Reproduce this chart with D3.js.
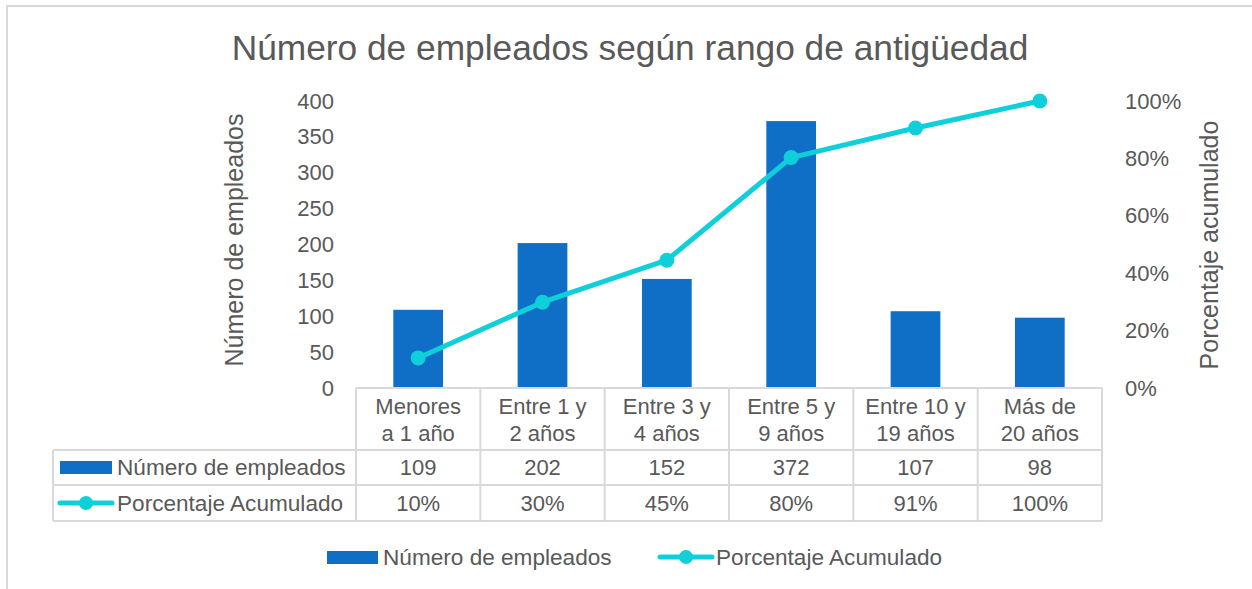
<!DOCTYPE html>
<html>
<head>
<meta charset="utf-8">
<script src="https://cdn.jsdelivr.net/npm/d3@7"></script>
<style>
  body { margin: 0; background: #fff; }
  svg { display: block; font-family: "Liberation Sans", Arial, sans-serif; }
</style>
</head>
<body>
<svg id="chart" width="1252" height="589"></svg>
<script>
const categories = [
  ['Menores', 'a 1 año'],
  ['Entre 1 y', '2 años'],
  ['Entre 3 y', '4 años'],
  ['Entre 5 y', '9 años'],
  ['Entre 10 y', '19 años'],
  ['Más de', '20 años'],
];
const empleados = [109, 202, 152, 372, 107, 98];
const acumulado = [0.1048, 0.299, 0.4452, 0.8029, 0.9058, 1.0];
const leftTicks = [0, 50, 100, 150, 200, 250, 300, 350, 400];
const rightTicks = [0, 0.2, 0.4, 0.6, 0.8, 1.0];

const textColor = '#595959';
const gridColor = '#d9d9d9';
const barColor = '#0f6fc6';
const lineColor = '#0fcfda';

const svg = d3.select('#chart');

// chart frame
svg.append('rect')
  .attr('x', 7).attr('y', 6)
  .attr('width', 1400).attr('height', 800)
  .attr('fill', 'none')
  .attr('stroke', gridColor)
  .attr('stroke-width', 2);

const plotLeft = 356, plotRight = 1102, plotTop = 101, plotBottom = 388;

const x = d3.scaleBand()
  .domain(d3.range(categories.length))
  .range([plotLeft, plotRight])
  .paddingInner(0.6)
  .paddingOuter(0.3);
const step = x.step();
const cellLeft = (i) => plotLeft + i * step;

const y = d3.scaleLinear().domain([0, 400]).range([plotBottom, plotTop]);
const y2 = d3.scaleLinear().domain([0, 1]).range([plotBottom, plotTop]);

// title
svg.append('text')
  .attr('x', 630).attr('y', 60)
  .attr('text-anchor', 'middle')
  .style('font-size', '35.3px')
  .style('fill', textColor)
  .text('Número de empleados según rango de antigüedad');

// left axis
const leftAxis = svg.append('g')
  .attr('transform', `translate(${plotLeft - 22},0)`)
  .call(d3.axisLeft(y).tickValues(leftTicks).tickSize(0).tickPadding(0));
leftAxis.select('.domain').remove();
leftAxis.selectAll('text')
  .style('font-size', '22px')
  .style('font-family', '"Liberation Sans", Arial, sans-serif')
  .style('fill', textColor);

// right axis
const rightAxis = svg.append('g')
  .attr('transform', `translate(${plotRight + 23},0)`)
  .call(d3.axisRight(y2).tickValues(rightTicks).tickFormat(d3.format('.0%')).tickSize(0).tickPadding(0));
rightAxis.select('.domain').remove();
rightAxis.selectAll('text')
  .style('font-size', '22px')
  .style('font-family', '"Liberation Sans", Arial, sans-serif')
  .style('fill', textColor);

// axis titles
svg.append('text')
  .attr('transform', 'translate(243,240) rotate(-90)')
  .attr('text-anchor', 'middle')
  .style('font-size', '25px')
  .style('fill', textColor)
  .text('Número de empleados');

svg.append('text')
  .attr('transform', 'translate(1218,245) rotate(-90)')
  .attr('text-anchor', 'middle')
  .style('font-size', '25px')
  .style('fill', textColor)
  .text('Porcentaje acumulado');

// bars
svg.append('g')
  .selectAll('rect')
  .data(empleados)
  .join('rect')
  .attr('x', (d, i) => x(i))
  .attr('y', (d) => y(d))
  .attr('width', x.bandwidth())
  .attr('height', (d) => y(0) - y(d))
  .attr('fill', barColor);

// cumulative line
const line = d3.line()
  .x((d, i) => x(i) + x.bandwidth() / 2)
  .y((d) => y2(d));

svg.append('path')
  .datum(acumulado)
  .attr('d', line)
  .attr('fill', 'none')
  .attr('stroke', lineColor)
  .attr('stroke-width', 5)
  .attr('stroke-linejoin', 'round');

svg.append('g')
  .selectAll('circle')
  .data(acumulado)
  .join('circle')
  .attr('cx', (d, i) => x(i) + x.bandwidth() / 2)
  .attr('cy', (d) => y2(d))
  .attr('r', 7.5)
  .attr('fill', lineColor);

// data table
const tableLeft = 53;
const headerBottom = 450, row1Bottom = 485, row2Bottom = 521;
const table = svg.append('g')
  .attr('fill', 'none')
  .attr('stroke', gridColor)
  .attr('stroke-width', 2);

// header row lines
table.append('line').attr('x1', plotLeft).attr('x2', plotRight).attr('y1', plotBottom).attr('y2', plotBottom);
[headerBottom, row1Bottom, row2Bottom].forEach((yy) => {
  table.append('line').attr('x1', tableLeft).attr('x2', plotRight).attr('y1', yy).attr('y2', yy);
});
d3.range(categories.length + 1).forEach((i) => {
  table.append('line')
    .attr('x1', cellLeft(i)).attr('x2', cellLeft(i))
    .attr('y1', plotBottom).attr('y2', row2Bottom);
});
table.append('line').attr('x1', tableLeft).attr('x2', tableLeft).attr('y1', headerBottom).attr('y2', row2Bottom);

const cellText = (g) => g
  .attr('text-anchor', 'middle')
  .style('font-size', '22px')
  .style('fill', textColor);

// category labels
svg.append('g')
  .selectAll('text')
  .data(categories)
  .join('text')
  .call(cellText)
  .each((d, i, n) => {
    d3.select(n[i]).selectAll('tspan')
      .data(d)
      .join('tspan')
      .attr('x', cellLeft(i) + step / 2)
      .attr('y', (t, j) => 414 + j * 27)
      .text((t) => t);
  });

svg.append('g')
  .selectAll('text')
  .data(empleados)
  .join('text')
  .call(cellText)
  .attr('x', (d, i) => cellLeft(i) + step / 2)
  .attr('y', 475)
  .text((d) => d);

svg.append('g')
  .selectAll('text')
  .data(acumulado)
  .join('text')
  .call(cellText)
  .attr('x', (d, i) => cellLeft(i) + step / 2)
  .attr('y', 511)
  .text((d) => d3.format('.0%')(d));

// legend keys
function barKey(g, kx, ky, w, h) {
  g.append('rect').attr('x', kx).attr('y', ky).attr('width', w).attr('height', h).attr('fill', barColor);
}
function lineKey(g, kx1, kx2, ky) {
  g.append('line').attr('x1', kx1).attr('x2', kx2).attr('y1', ky).attr('y2', ky)
    .attr('stroke', lineColor).attr('stroke-width', 5).attr('stroke-linecap', 'round');
  g.append('circle').attr('cx', (kx1 + kx2) / 2).attr('cy', ky).attr('r', 7).attr('fill', lineColor);
}
function keyLabel(g, tx, ty, label) {
  g.append('text').attr('x', tx).attr('y', ty)
    .style('font-size', '22.6px').style('fill', textColor).text(label);
}

const tableKeys = svg.append('g');
barKey(tableKeys, 60, 461, 52, 13);
keyLabel(tableKeys, 117, 475, 'Número de empleados');
lineKey(tableKeys, 60, 112, 503);
keyLabel(tableKeys, 117, 511, 'Porcentaje Acumulado');

// bottom legend
const legend = svg.append('g');
barKey(legend, 327, 551, 51, 13);
keyLabel(legend, 383, 565, 'Número de empleados');
lineKey(legend, 660, 712, 557);
keyLabel(legend, 716, 565, 'Porcentaje Acumulado');
</script>
</body>
</html>
